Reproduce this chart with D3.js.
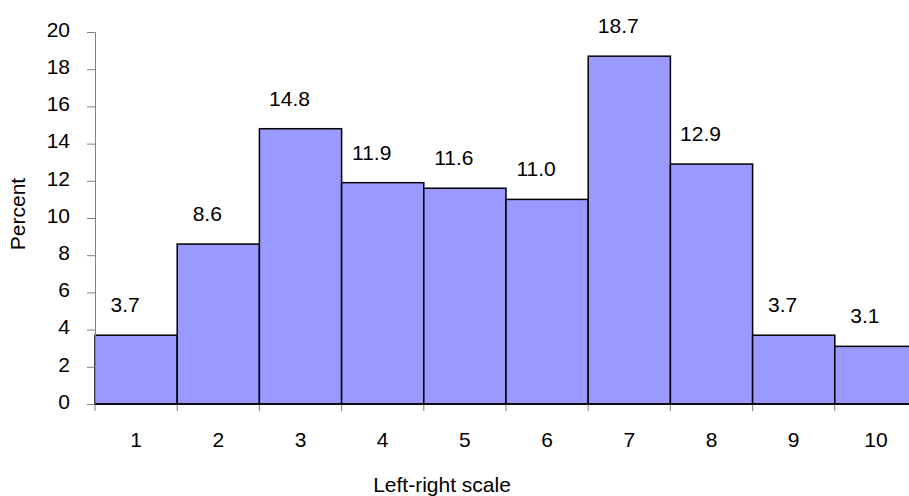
<!DOCTYPE html>
<html><head><meta charset="utf-8">
<script src="https://cdn.jsdelivr.net/npm/d3@7"></script>
<style>body{margin:0;background:#fff}svg{display:block}text{font-family:"Liberation Sans",Arial,sans-serif}</style>
</head><body>
<svg id="c" width="909" height="496"></svg>
<script>
const categories = ["1","2","3","4","5","6","7","8","9","10"];
const values = [3.7, 8.6, 14.8, 11.9, 11.6, 11.0, 18.7, 12.9, 3.7, 3.1];
const yTicks = [0,2,4,6,8,10,12,14,16,18,20];
const xTitle = "Left-right scale";
const yTitle = "Percent";

const svg = d3.select("#c");
const x0 = 95, x1 = 917, yTop = 32, yBot = 404;
const x = d3.scaleBand().domain(categories).range([x0, x1]).padding(0);
const y = d3.scaleLinear().domain([0, 20]).range([yBot, yTop]);
const fs = 21;
const ff = "Liberation Sans, Arial, sans-serif";

// bars
svg.selectAll("rect.bar").data(values).enter().append("rect")
  .attr("x", (d,i) => x(categories[i]))
  .attr("y", d => y(d))
  .attr("width", x.bandwidth())
  .attr("height", d => y(0) - y(d))
  .attr("fill", "#9999FF").attr("stroke", "#000").attr("stroke-width", 1.5);

// y axis
const ya = svg.append("g").attr("transform", `translate(${x0},0)`)
  .call(d3.axisLeft(y).tickValues(yTicks).tickSize(8).tickPadding(17));
ya.select(".domain").attr("stroke", "#808080").attr("stroke-width", 1);
ya.selectAll(".tick line").attr("stroke", "#808080");
ya.selectAll("text").attr("font-size", fs).attr("fill", "#000").attr("font-family", ff)
  .attr("dy", "0.2em");

// x axis ticks at boundaries
const bounds = categories.map(c => x(c)).concat([x1]);
svg.selectAll("line.xt").data(bounds).enter().append("line")
  .attr("x1", d => d).attr("x2", d => d).attr("y1", yBot).attr("y2", yBot + 7)
  .attr("stroke", "#808080");
svg.append("line").attr("x1", x0).attr("x2", x1).attr("y1", yBot).attr("y2", yBot)
  .attr("stroke", "#000").attr("stroke-width", 1.5);

svg.selectAll("text.xl").data(categories).enter().append("text")
  .attr("x", d => x(d) + x.bandwidth()/2).attr("y", 447)
  .attr("text-anchor", "middle").attr("font-size", fs).text(d => d);

// value labels
svg.selectAll("text.vl").data(values).enter().append("text")
  .attr("x", (d,i) => x(categories[i]) + x.bandwidth()/2 - 11)
  .attr("y", d => y(d) - 23)
  .attr("text-anchor", "middle").attr("font-size", fs).text(d => d.toFixed(1));

svg.append("text").attr("x", 442).attr("y", 492).attr("text-anchor", "middle")
  .attr("font-size", fs).text(xTitle);
svg.append("text").attr("transform", "translate(25,214) rotate(-90)")
  .attr("text-anchor", "middle").attr("font-size", fs).text(yTitle);
</script>
</body></html>
